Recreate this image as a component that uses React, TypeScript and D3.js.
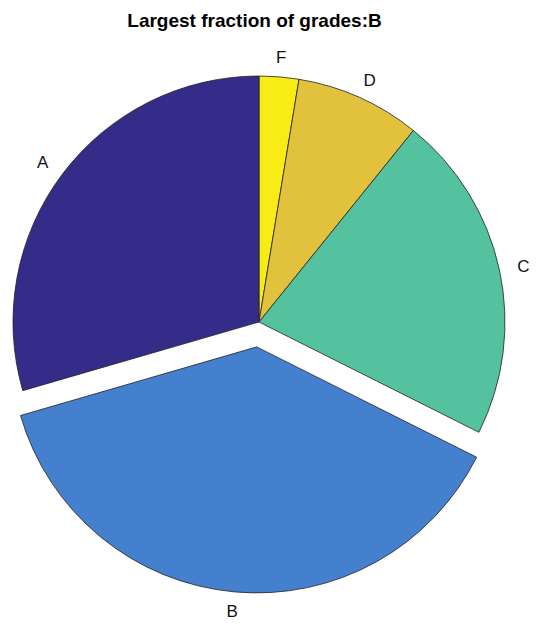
import * as d3 from 'd3';

// grade shares (percent), clockwise from 12 o'clock
const grades = ['F', 'D', 'C', 'B', 'A'];
const shares = [2.6, 8.2, 21.6, 38.1, 29.5];
const exploded = ['B'];
const colors = ['#f7ec14', '#e2c23c', '#54c29e', '#4580cf', '#352c89'];
const title = 'Largest fraction of grades:B';

const width = 539;
const height = 624;
const cx = 259;
const cy = 322;
const radius = 246;
const explodeOffset = 25;

const App = () => {
    const data = grades.map((g, i) => ({ grade: g, value: shares[i], color: colors[i] }));

    const pie = d3.pie<{ grade: string; value: number; color: string }>()
        .sort(null)
        .value(d => d.value);

    const arc = d3.arc<d3.PieArcDatum<{ grade: string; value: number; color: string }>>()
        .innerRadius(0)
        .outerRadius(radius);

    const slices = pie(data);

    return (
        <svg width={width} height={height} style={{ position: 'absolute', left: 0, top: 0, background: '#fff' }}>
            <text x={254.5} y={27} textAnchor="middle" fontFamily="Liberation Sans, Arial, sans-serif"
                fontWeight="bold" fontSize={19} fill="#000">{title}</text>
            <g transform={`translate(${cx},${cy})`}>
                {slices.map(s => {
                    const mid = (s.startAngle + s.endAngle) / 2;
                    const off = exploded.includes(s.data.grade) ? explodeOffset : 0;
                    const ox = Math.sin(mid) * off;
                    const oy = -Math.cos(mid) * off;
                    // label sits just outside the rim, like matlab pie
                    const lx = ox + Math.sin(mid) * radius * 1.1;
                    const ly = oy - Math.cos(mid) * radius * 1.08;
                    return (
                        <g key={s.data.grade}>
                            <path d={arc(s) || ''} transform={`translate(${ox},${oy})`}
                                fill={s.data.color} stroke="#222" strokeWidth={0.8} strokeLinejoin="round" />
                            <text x={lx} y={ly + 6} textAnchor="middle" fontFamily="Liberation Sans, Arial, sans-serif"
                                fontSize={17} fill="#111">{s.data.grade}</text>
                        </g>
                    );
                })}
            </g>
        </svg>
    );
};

export default App;
